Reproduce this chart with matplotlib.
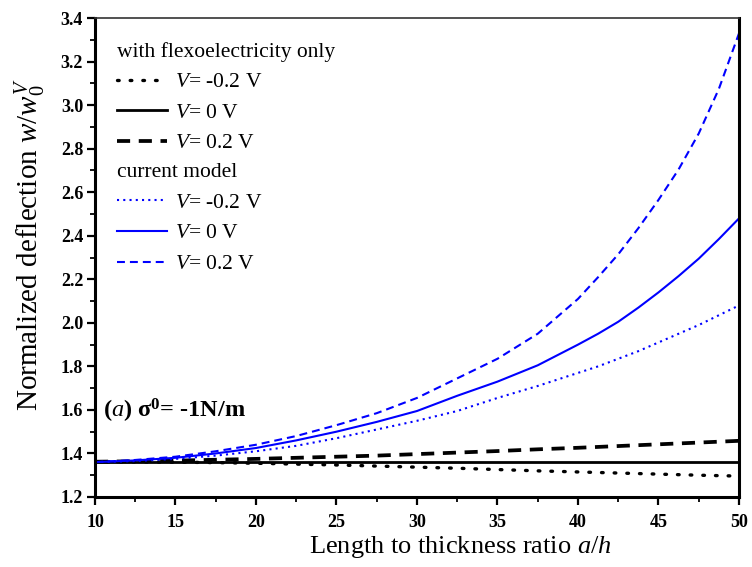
import matplotlib
matplotlib.use("Agg")
import matplotlib.pyplot as plt
from matplotlib.ticker import MultipleLocator, FormatStrFormatter

plt.rcParams['font.family'] = ['Liberation Serif', 'DejaVu Serif']
plt.rcParams['mathtext.fontset'] = 'custom'
plt.rcParams['mathtext.rm'] = 'Liberation Serif'
plt.rcParams['mathtext.it'] = 'Liberation Serif:italic'
plt.rcParams['mathtext.bf'] = 'Liberation Serif:bold'

ratio = [10, 12.5, 15, 17.5, 20, 22.5, 25, 27.5, 30, 32.5, 35, 37.5,
         40, 41.25, 42.5, 43.75, 45, 46.25, 47.5, 48.75, 50]

flexo_neg = [1.362, 1.361, 1.360, 1.358, 1.355, 1.351, 1.347, 1.342, 1.337, 1.332, 1.326, 1.320,
             1.315, 1.3125, 1.310, 1.3075, 1.305, 1.3025, 1.300, 1.298, 1.296]
flexo_zero = [1.362] * 21
flexo_pos = [1.362, 1.364, 1.367, 1.371, 1.375, 1.380, 1.385, 1.390, 1.397, 1.404, 1.411, 1.419,
             1.426, 1.430, 1.434, 1.438, 1.442, 1.446, 1.450, 1.454, 1.458]

model_neg = [1.360, 1.365, 1.375, 1.390, 1.410, 1.435, 1.470, 1.510, 1.550, 1.595, 1.655, 1.710,
             1.770, 1.800, 1.835, 1.870, 1.910, 1.950, 1.990, 2.035, 2.080]
model_zero = [1.360, 1.368, 1.380, 1.400, 1.425, 1.460, 1.500, 1.545, 1.595, 1.665, 1.730, 1.805,
              1.900, 1.950, 2.005, 2.070, 2.140, 2.215, 2.295, 2.385, 2.480]
model_pos = [1.360, 1.370, 1.385, 1.410, 1.440, 1.480, 1.530, 1.585, 1.655, 1.745, 1.835, 1.950,
             2.110, 2.210, 2.315, 2.435, 2.565, 2.705, 2.870, 3.075, 3.330]

labels = ["$V$= -0.2 V", "$V$= 0 V", "$V$= 0.2 V"]

fig = plt.figure(figsize=(7.52, 5.67), dpi=100)
ax = fig.add_axes([0.1263, 0.1235, 0.8564, 0.8445])

h1, = ax.plot(ratio, flexo_neg, color='black', lw=2.4, linestyle=(0, (0.5, 3.3)), dash_capstyle='round')
h2, = ax.plot(ratio, flexo_zero, color='black', lw=2.0, linestyle='-')
h3, = ax.plot(ratio, flexo_pos, color='black', lw=2.7, linestyle=(0, (3.5, 2.3)))
h4, = ax.plot(ratio, model_neg, color='#0000ff', lw=1.5, linestyle=(0, (1, 2.0)))
h5, = ax.plot(ratio, model_zero, color='#0000ff', lw=1.5, linestyle='-')
h6, = ax.plot(ratio, model_pos, color='#0000ff', lw=1.5, linestyle=(0, (3.8, 2.4)))

ax.set_xlim(10, 50)
ax.set_ylim(1.2, 3.4)
ax.xaxis.set_major_locator(MultipleLocator(5))
ax.xaxis.set_minor_locator(MultipleLocator(2.5))
ax.yaxis.set_major_locator(MultipleLocator(0.2))
ax.yaxis.set_minor_locator(MultipleLocator(0.1))
ax.yaxis.set_major_formatter(FormatStrFormatter('%.1f'))
ax.tick_params(which='major', direction='out', length=6, width=1.6, labelsize=13, top=False, right=False)
ax.tick_params(axis='x', which='major', pad=6)
ax.tick_params(axis='y', which='major', pad=2.5)
ax.tick_params(which='minor', direction='out', length=3.5, width=1.3, top=False, right=False)
for lab in ax.get_xticklabels() + ax.get_yticklabels():
    lab.set_fontweight('bold')

for side in ['left', 'bottom', 'right']:
    ax.spines[side].set_linewidth(2.2)
ax.spines['top'].set_linewidth(1.2)
ax.spines['top'].set_color('#333333')

ax.set_xlabel("Length to thickness ratio $a/h$", fontsize=19)
ax.set_ylabel("Normalized deflection $w/w_0^V$", fontsize=21)
ax.xaxis.set_label_coords(0.567, -0.078)
ax.yaxis.set_label_coords(-0.073, 0.528)

common = dict(loc='upper left', frameon=False, fontsize=15.5, title_fontsize=15.5,
              alignment='left', handlelength=2.35, handletextpad=0.37,
              labelspacing=0.49, borderaxespad=0.0, borderpad=0.0)
leg1 = ax.legend([h1, h2, h3], labels, title="with flexoelectricity only",
                 bbox_to_anchor=(0.034, 0.951), **common)
ax.add_artist(leg1)
leg2 = ax.legend([h4, h5, h6], labels, title="current model",
                 bbox_to_anchor=(0.034, 0.697), **common)

ax.text(0.012, 0.180, r"($\mathit{a}$) $\mathbf{\sigma^0}$= -1N/m", transform=ax.transAxes,
        fontsize=17.5, fontweight='bold', ha='left', va='center')

fig.savefig("out.png", dpi=100)
